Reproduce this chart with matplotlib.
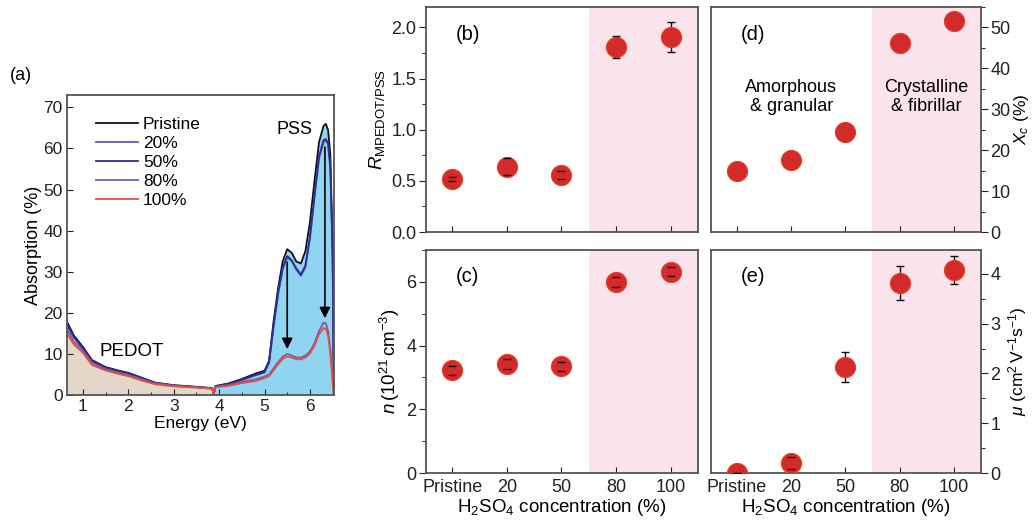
import matplotlib
matplotlib.use('Agg')
import matplotlib.pyplot as plt
from matplotlib.ticker import MultipleLocator

plt.rcParams['font.family'] = ['Liberation Sans', 'DejaVu Sans']
plt.rcParams['mathtext.fontset'] = 'custom'
plt.rcParams['mathtext.rm'] = 'Liberation Sans'
plt.rcParams['mathtext.it'] = 'Liberation Sans:italic'

# ---- panel (a) spectra ----
energy = [0.65, 0.8, 1.0, 1.2, 1.5, 1.8, 2.0, 2.3, 2.6, 3.0, 3.5, 3.85, 3.88, 3.92,
          4.2, 4.5, 4.8, 5.0, 5.1, 5.2, 5.3, 5.4, 5.5, 5.6, 5.7, 5.8, 5.9, 6.0, 6.1,
          6.2, 6.3, 6.35, 6.4, 6.45, 6.5, 6.52, 6.53]
abs_pristine = [17.8, 14.5, 11.7, 8.5, 6.8, 5.9, 5.4, 4.2, 3.0, 2.4, 2.0, 1.7, 0.2, 2.2,
                2.8, 3.9, 5.2, 5.9, 8.3, 18, 26, 32.5, 35.5, 34.6, 32.5, 32, 35, 42, 52,
                61.5, 65.5, 66, 64.5, 58.5, 36, 12, 0]
abs_20 = [17.0, 14.0, 11.2, 8.2, 6.6, 5.7, 5.2, 4.0, 2.9, 2.3, 1.9, 1.6, 0.2, 2.1,
          2.6, 3.6, 4.8, 5.5, 7.8, 16.5, 24.5, 30.5, 33.5, 32.5, 30.5, 29, 31, 38, 48,
          57.5, 61.5, 62, 61, 55, 34, 11, 0]
abs_50 = [17.3, 14.2, 11.4, 8.3, 6.7, 5.8, 5.3, 4.1, 2.9, 2.3, 1.9, 1.6, 0.3, 2.1,
          2.7, 3.7, 4.9, 5.6, 8.0, 17, 25, 31, 33.8, 32.8, 30.8, 29.3, 31.5, 38.5, 48.5,
          58, 62, 62.3, 61.2, 55.5, 34.5, 11, 0]
abs_80 = [16.0, 13.0, 10.8, 7.8, 6.3, 5.4, 4.9, 3.8, 2.8, 2.3, 1.9, 1.6, 0.3, 2.0,
          2.4, 3.2, 3.8, 4.5, 5.0, 6.5, 8.0, 9.3, 10.0, 9.6, 9.1, 9.1, 9.6, 10.6, 12.6,
          15.6, 17.6, 17.4, 15.6, 11.0, 4.0, 1.0, 0]
abs_100 = [15.0, 12.3, 10.3, 7.3, 6.0, 5.1, 4.6, 3.5, 2.6, 2.1, 1.8, 1.5, 0.3, 1.9,
           2.2, 2.9, 3.4, 4.1, 4.6, 6.0, 7.5, 8.8, 9.4, 9.1, 8.7, 8.7, 9.1, 10.1, 12.0,
           14.8, 16.3, 16.1, 14.6, 10.2, 3.5, 0.8, 0]

spectra = [('Pristine', abs_pristine, '#111111'),
           ('20%', abs_20, '#5a5ac8'),
           ('50%', abs_50, '#2e2e8e'),
           ('80%', abs_80, '#7a5aa8'),
           ('100%', abs_100, '#e0503a')]

# ---- panels (b)-(e) ----
categories = ['Pristine', '20', '50', '80', '100']
r_ratio = [0.52, 0.64, 0.56, 1.81, 1.91]
r_err = [0.02, 0.08, 0.04, 0.11, 0.145]
n_carrier = [3.22, 3.42, 3.35, 6.0, 6.32]
n_err = [0.15, 0.15, 0.15, 0.15, 0.15]
xc = [15.0, 17.7, 24.4, 46.3, 51.5]
mobility = [0.0, 0.2, 2.13, 3.82, 4.08]
mu_err = [0.0, 0.12, 0.31, 0.34, 0.28]

fig = plt.figure(figsize=(10.34, 5.25), dpi=100)

spine_col = '#555555'
red = '#d42a2a'
pink = '#fbe3ec'


def style(ax, size=13):
    for s in ax.spines.values():
        s.set_color(spine_col)
        s.set_linewidth(1.3)
    ax.tick_params(colors='#222222', labelsize=size)


# panel (a)
ax = fig.add_axes([0.0648, 0.2476, 0.2582, 0.5714])
split = 3.9
ax.fill_between(energy, abs_pristine, where=[e <= split for e in energy],
                color='#e5d7c8', lw=0, interpolate=True)
ax.fill_between(energy, abs_pristine, where=[e >= split for e in energy],
                color='#8fd4f0', lw=0, interpolate=True)
for name, vals, col in spectra:
    ax.plot(energy, vals, color=col, lw=1.3, label=name)
ax.annotate('', xy=(5.5, 10.5), xytext=(5.5, 33),
            arrowprops=dict(arrowstyle='-|>', color='k', lw=1.2, mutation_scale=16))
ax.annotate('', xy=(6.33, 18), xytext=(6.33, 61),
            arrowprops=dict(arrowstyle='-|>', color='k', lw=1.2, mutation_scale=16))
ax.text(5.67, 64.5, 'PSS', fontsize=13, ha='center', va='center')
ax.text(2.07, 10.5, 'PEDOT', fontsize=13.5, ha='center', va='center')
ax.set_xlim(0.65, 6.53)
ax.set_ylim(0, 73)
ax.xaxis.set_major_locator(MultipleLocator(1))
ax.xaxis.set_minor_locator(MultipleLocator(0.5))
ax.yaxis.set_major_locator(MultipleLocator(10))
style(ax, 12.5)
ax.tick_params(which='both', direction='in', pad=3)
ax.tick_params(which='major', length=4)
ax.tick_params(which='minor', length=2.5)
ax.set_xlabel('Energy (eV)', fontsize=12.5, labelpad=1)
ax.set_ylabel('Absorption (%)', fontsize=13, labelpad=1)
ax.legend(loc='upper left', frameon=False, fontsize=12.5, handlelength=2.4,
          handletextpad=0.3, labelspacing=0.22, borderaxespad=0.5,
          bbox_to_anchor=(0.05, 0.98))
fig.text(0.01, 0.857, '(a)', fontsize=13, va='center')

x = list(range(len(categories)))


def cat_panel(rect, vals, err, ylim, major, minor, label, tag, right=False,
              xlabels=False, lpad=3):
    ax = fig.add_axes(rect)
    ax.axvspan(2.5, 4.5, color=pink, lw=0, zorder=0)
    if err is not None:
        eb = ax.errorbar(x, vals, yerr=err, fmt='none', ecolor='#111111', elinewidth=1,
                         capsize=3, capthick=1, zorder=2)
        for cap in eb[1]:
            cap.set_zorder(4)
    ax.plot(x, vals, 'o', ms=14.5, color=red, mec='#e0452a', mew=0.8, zorder=3)
    ax.set_xlim(-0.48, 4.5)
    ax.set_ylim(*ylim)
    ax.set_xticks(x)
    ax.yaxis.set_major_locator(MultipleLocator(major))
    ax.yaxis.set_minor_locator(MultipleLocator(minor))
    style(ax)
    ax.tick_params(axis='x', direction='in', length=4, pad=4)
    ax.tick_params(axis='y', which='major', direction='out', length=5, pad=2)
    ax.tick_params(axis='y', which='minor', direction='out', length=3)
    if xlabels:
        ax.set_xticklabels(categories)
        ax.set_xlabel('H$_2$SO$_4$ concentration (%)', fontsize=13.5, labelpad=1)
    else:
        ax.set_xticklabels([])
    if right:
        ax.yaxis.tick_right()
        ax.yaxis.set_label_position('right')
        ax.set_ylabel(label, fontsize=12.5, labelpad=lpad)
    else:
        ax.set_ylabel(label, fontsize=13.5, labelpad=lpad)
    ax.text(0.11, 0.88, tag, transform=ax.transAxes, fontsize=14.5, va='center')
    return ax


cat_panel([0.412, 0.558, 0.263, 0.4286], r_ratio, r_err, (0, 2.2), 0.5, 0.25,
          r'$R_{\mathrm{MPEDOT/PSS}}$', '(b)')
cat_panel([0.412, 0.099, 0.263, 0.4248], n_carrier, n_err, (0, 7.0), 2, 1,
          r'$n\,(10^{21}\,\mathrm{cm^{-3}})$', '(c)', xlabels=True)
axd = cat_panel([0.6876, 0.558, 0.261, 0.4286], xc, None, (0, 55), 10, 5,
                r'$X_c$ (%)', '(d)', right=True, lpad=1)
axd.text(1.0, 33, 'Amorphous\n& granular', ha='center', va='center', fontsize=13,
         linespacing=1.2)
axd.text(3.5, 33, 'Crystalline\n& fibrillar', ha='center', va='center', fontsize=13,
         linespacing=1.2)
cat_panel([0.6876, 0.099, 0.261, 0.4248], mobility, mu_err, (0, 4.48), 1, 0.5,
          r'$\mu\ (\mathrm{cm^2\,V^{-1}s^{-1}})$', '(e)', right=True, xlabels=True,
          lpad=4)

fig.savefig('out.png', dpi=100)
